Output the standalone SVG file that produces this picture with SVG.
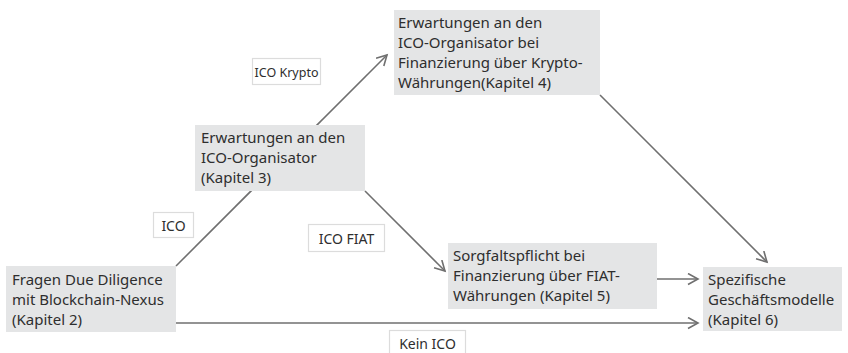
<svg xmlns="http://www.w3.org/2000/svg" width="848" height="353" viewBox="0 0 848 353">
  <defs>
    <marker id="arrow" markerUnits="userSpaceOnUse" markerWidth="14" markerHeight="14" refX="11" refY="6" orient="auto">
      <path d="M1,0.5 L11,6 L1,11.5" fill="none" stroke="#6f6f6f" stroke-width="1.6"/>
    </marker>
    <style>
      .box { fill: #e4e5e6; }
      .tag { fill: #ffffff; stroke: #dcdcdc; stroke-width: 1.2; }
      .txt { font-family: "Noto Sans", "Open Sans", sans-serif; font-size: 15px; fill: #2e2e2e; }
      .lbl { font-family: "Noto Sans", "Open Sans", sans-serif; font-size: 14px; fill: #2e2e2e; text-anchor: middle; }
      .small { font-size: 12.5px; }
      .edge { stroke: #6f6f6f; stroke-width: 1.6; fill: none; marker-end: url(#arrow); }
    </style>
  </defs>
  <rect width="848" height="353" fill="#ffffff"/>

  <!-- connectors -->
  <g id="connectors">
    <line class="edge" x1="176" y1="266" x2="387" y2="55"/>
    <line class="edge" x1="365" y1="191" x2="445" y2="271"/>
    <line class="edge" x1="600" y1="95" x2="767" y2="262"/>
    <line class="edge" x1="657" y1="279" x2="698" y2="279"/>
    <line class="edge" x1="176" y1="323" x2="698" y2="323"/>
  </g>

  <!-- edge labels -->
  <g id="labels">
    <g id="label-ico-krypto">
      <rect class="tag" x="252.5" y="58.5" width="68" height="26"/>
      <text class="lbl small" x="286.5" y="77">ICO Krypto</text>
    </g>
    <g id="label-ico">
      <rect class="tag" x="153.5" y="212.5" width="40" height="25"/>
      <text class="lbl" x="173.5" y="231">ICO</text>
    </g>
    <g id="label-ico-fiat">
      <rect class="tag" x="308.5" y="224.5" width="76" height="27"/>
      <text class="lbl" x="346.5" y="244">ICO FIAT</text>
    </g>
    <g id="label-kein-ico">
      <rect class="tag" x="389.5" y="330.5" width="76" height="26"/>
      <text class="lbl" x="427.5" y="349">Kein ICO</text>
    </g>
  </g>

  <!-- nodes -->
  <g id="node-kapitel2">
    <rect class="box" x="6" y="266" width="170" height="66"/>
    <text class="txt" x="12" y="285">Fragen Due Diligence</text>
    <text class="txt" x="12" y="305">mit Blockchain-Nexus</text>
    <text class="txt" x="12" y="325">(Kapitel 2)</text>
  </g>
  <g id="node-kapitel3">
    <rect class="box" x="195" y="125" width="170" height="66"/>
    <text class="txt" x="201" y="143">Erwartungen an den</text>
    <text class="txt" x="201" y="163">ICO-Organisator</text>
    <text class="txt" x="201" y="183">(Kapitel 3)</text>
  </g>
  <g id="node-kapitel4">
    <rect class="box" x="394" y="10" width="206" height="85"/>
    <text class="txt" x="398" y="28">Erwartungen an den</text>
    <text class="txt" x="398" y="48">ICO-Organisator bei</text>
    <text class="txt" x="398" y="68">Finanzierung über Krypto-</text>
    <text class="txt" x="398" y="88">Währungen(Kapitel 4)</text>
  </g>
  <g id="node-kapitel5">
    <rect class="box" x="448" y="243" width="209" height="66"/>
    <text class="txt" x="453" y="261">Sorgfaltspflicht bei</text>
    <text class="txt" x="453" y="281">Finanzierung über FIAT-</text>
    <text class="txt" x="453" y="301">Währungen (Kapitel 5)</text>
  </g>
  <g id="node-kapitel6">
    <rect class="box" x="703" y="267" width="139" height="64"/>
    <text class="txt" x="708" y="285">Spezifische</text>
    <text class="txt" x="708" y="305">Geschäftsmodelle</text>
    <text class="txt" x="708" y="325">(Kapitel 6)</text>
  </g>
</svg>
